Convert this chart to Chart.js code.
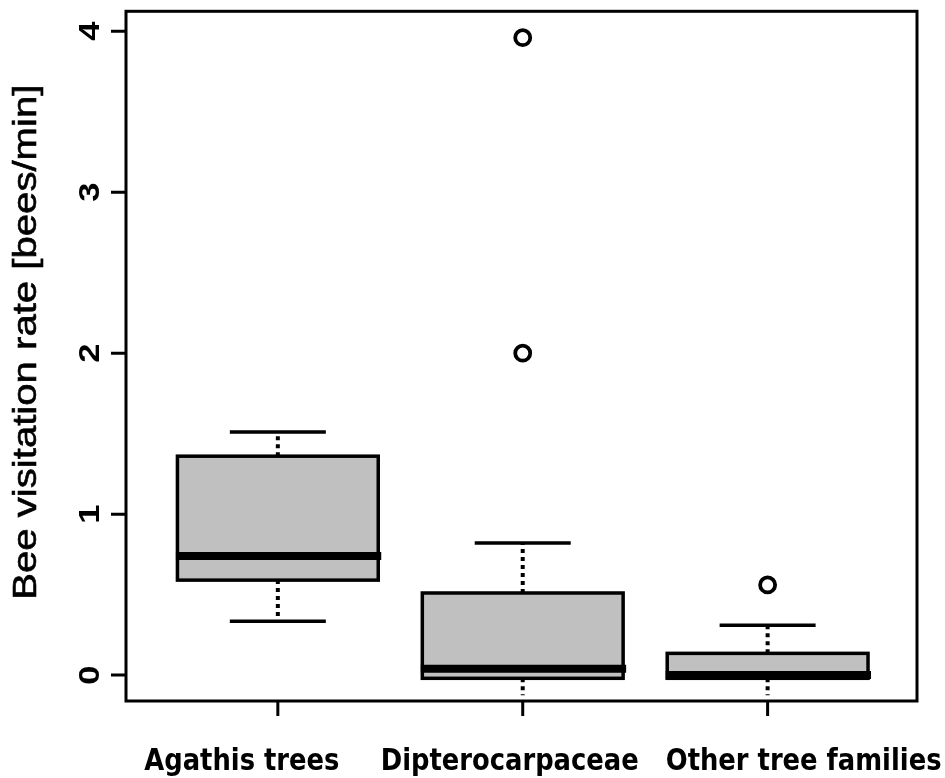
<!DOCTYPE html>
<html>
<head>
<meta charset="utf-8">
<script src="https://cdn.jsdelivr.net/npm/chart.js@4/dist/chart.umd.min.js"></script>
<style>
html,body{margin:0;padding:0;background:#fff;}
#wrap{width:945px;height:778px;position:relative;}
</style>
</head>
<body>
<div id="wrap"><canvas id="c"></canvas></div>
<script>
// ---- data ----
const categories = ['Agathis trees', 'Dipterocarpaceae', 'Other tree families'];
const whiskerHigh = [1.51, 0.82, 0.31];
const quartile3 = [1.36, 0.51, 0.135];
const medians = [0.74, 0.04, 0.0];
const quartile1 = [0.59, -0.02, -0.02];
const whiskerLow = [0.335, -0.125, -0.125];
const lowCap = [true, false, false];
const outlierGroup = [2, 2, 3];
const outlierValue = [3.96, 2.0, 0.56];
const yTicks = [0, 1, 2, 3, 4];
const yTitle = 'Bee visitation rate [bees/min]';

// ---- styles ----
const BOX_HALF = 0.41;
const CAP_HALF = 0.196;
const labelShift = [-36, -13, 36];

const boxPlugin = {
  id: 'boxes',
  beforeDatasetsDraw(chart) {
    const ctx = chart.ctx, xs = chart.scales.x, ys = chart.scales.y;
    ctx.save();
    categories.forEach((c, i) => {
      const v = i + 1;
      const xc = xs.getPixelForValue(v);
      const xl = xs.getPixelForValue(v - BOX_HALF), xr = xs.getPixelForValue(v + BOX_HALF);
      const cl = xs.getPixelForValue(v - CAP_HALF), cr = xs.getPixelForValue(v + CAP_HALF);
      const yq3 = ys.getPixelForValue(quartile3[i]), yq1 = ys.getPixelForValue(quartile1[i]);
      const ywh = ys.getPixelForValue(whiskerHigh[i]), ywl = ys.getPixelForValue(whiskerLow[i]);
      const ym = ys.getPixelForValue(medians[i]);
      ctx.strokeStyle = '#000';
      // whiskers dotted
      ctx.lineWidth = 4;
      ctx.setLineDash([4, 4]);
      ctx.beginPath();
      ctx.moveTo(xc, yq3); ctx.lineTo(xc, ywh);
      ctx.moveTo(xc, yq1); ctx.lineTo(xc, ywl);
      ctx.stroke();
      ctx.setLineDash([]);
      // caps
      ctx.lineWidth = 3.5;
      ctx.beginPath();
      ctx.moveTo(cl, ywh); ctx.lineTo(cr, ywh);
      if (lowCap[i]) { ctx.moveTo(cl, ywl); ctx.lineTo(cr, ywl); }
      ctx.stroke();
      // box
      ctx.fillStyle = '#c0c0c0';
      ctx.fillRect(xl, yq3, xr - xl, yq1 - yq3);
      ctx.lineWidth = 3.5;
      ctx.strokeRect(xl, yq3, xr - xl, yq1 - yq3);
      // median
      ctx.lineWidth = 8;
      ctx.beginPath();
      ctx.moveTo(xl - 1.5, ym); ctx.lineTo(xr + 3, ym);
      ctx.stroke();
    });
    ctx.restore();
  },
  afterDraw(chart) {
    const ctx = chart.ctx, xs = chart.scales.x, ys = chart.scales.y, a = chart.chartArea;
    ctx.save();
    ctx.strokeStyle = '#000';
    ctx.fillStyle = '#000';
    ctx.lineWidth = 3;
    ctx.strokeRect(a.left, a.top, a.right - a.left, a.bottom - a.top);
    // y ticks
    ctx.beginPath();
    yTicks.forEach(t => {
      const y = ys.getPixelForValue(t);
      ctx.moveTo(a.left - 15, y); ctx.lineTo(a.left, y);
    });
    // x ticks
    categories.forEach((c, i) => {
      const x = xs.getPixelForValue(i + 1);
      ctx.moveTo(x, a.bottom); ctx.lineTo(x, a.bottom + 15);
    });
    ctx.stroke();
    // y tick labels (rotated)
    ctx.textAlign = 'center';
    ctx.textBaseline = 'middle';
    ctx.font = 'bold 30px "Liberation Sans", Arial, sans-serif';
    yTicks.forEach(t => {
      const y = ys.getPixelForValue(t);
      ctx.save();
      ctx.translate(91, y);
      ctx.rotate(-Math.PI / 2);
      ctx.scale(1.15, 1);
      ctx.fillText(String(t), 0, 0);
      ctx.restore();
    });
    // y title
    ctx.save();
    ctx.translate(27, (a.top + a.bottom) / 2 - 14);
    ctx.rotate(-Math.PI / 2);
    ctx.scale(1.18, 1);
    ctx.font = '34px "Liberation Sans", Arial, sans-serif';
    ctx.fillText(yTitle, 0, 0);
    ctx.lineWidth = 0.6;
    ctx.strokeText(yTitle, 0, 0);
    ctx.restore();
    // x labels
    ctx.textBaseline = 'alphabetic';
    ctx.font = 'bold 30px "DejaVu Sans", sans-serif';
    categories.forEach((c, i) => {
      const x = xs.getPixelForValue(i + 1) + labelShift[i];
      ctx.save();
      ctx.translate(x, 770);
      ctx.scale(0.86, 1);
      ctx.fillText(c, 0, 0);
      ctx.restore();
    });
    ctx.restore();
  }
};

new Chart(document.getElementById('c'), {
  type: 'scatter',
  data: {
    datasets: [{
      label: 'Outliers',
      data: outlierGroup.map((g, i) => ({ x: g, y: outlierValue[i] })),
      pointStyle: 'circle',
      pointRadius: 7.5,
      pointBorderWidth: 3.8,
      pointBorderColor: '#000',
      pointBackgroundColor: '#fff',
      showLine: false
    }]
  },
  options: {
    responsive: true,
    maintainAspectRatio: false,
    animation: false,
    events: [],
    layout: { padding: { top: 10, right: 28, left: 0, bottom: 0 } },
    plugins: { legend: { display: false }, tooltip: { enabled: false }, title: { display: false } },
    scales: {
      x: {
        type: 'linear', min: 0.38, max: 3.61,
        afterBuildTicks: s => { s.ticks = categories.map((c, i) => ({ value: i + 1 })); },
        afterFit: s => { s.height = 77; },
        ticks: { display: false },
        grid: { display: false },
        border: { display: false }
      },
      y: {
        type: 'linear', min: -0.161, max: 4.124,
        afterBuildTicks: s => { s.ticks = yTicks.map(v => ({ value: v })); },
        afterFit: s => { s.width = 126; },
        ticks: { display: false },
        grid: { display: false },
        border: { display: false }
      }
    }
  },
  plugins: [boxPlugin]
});
</script>
</body>
</html>
